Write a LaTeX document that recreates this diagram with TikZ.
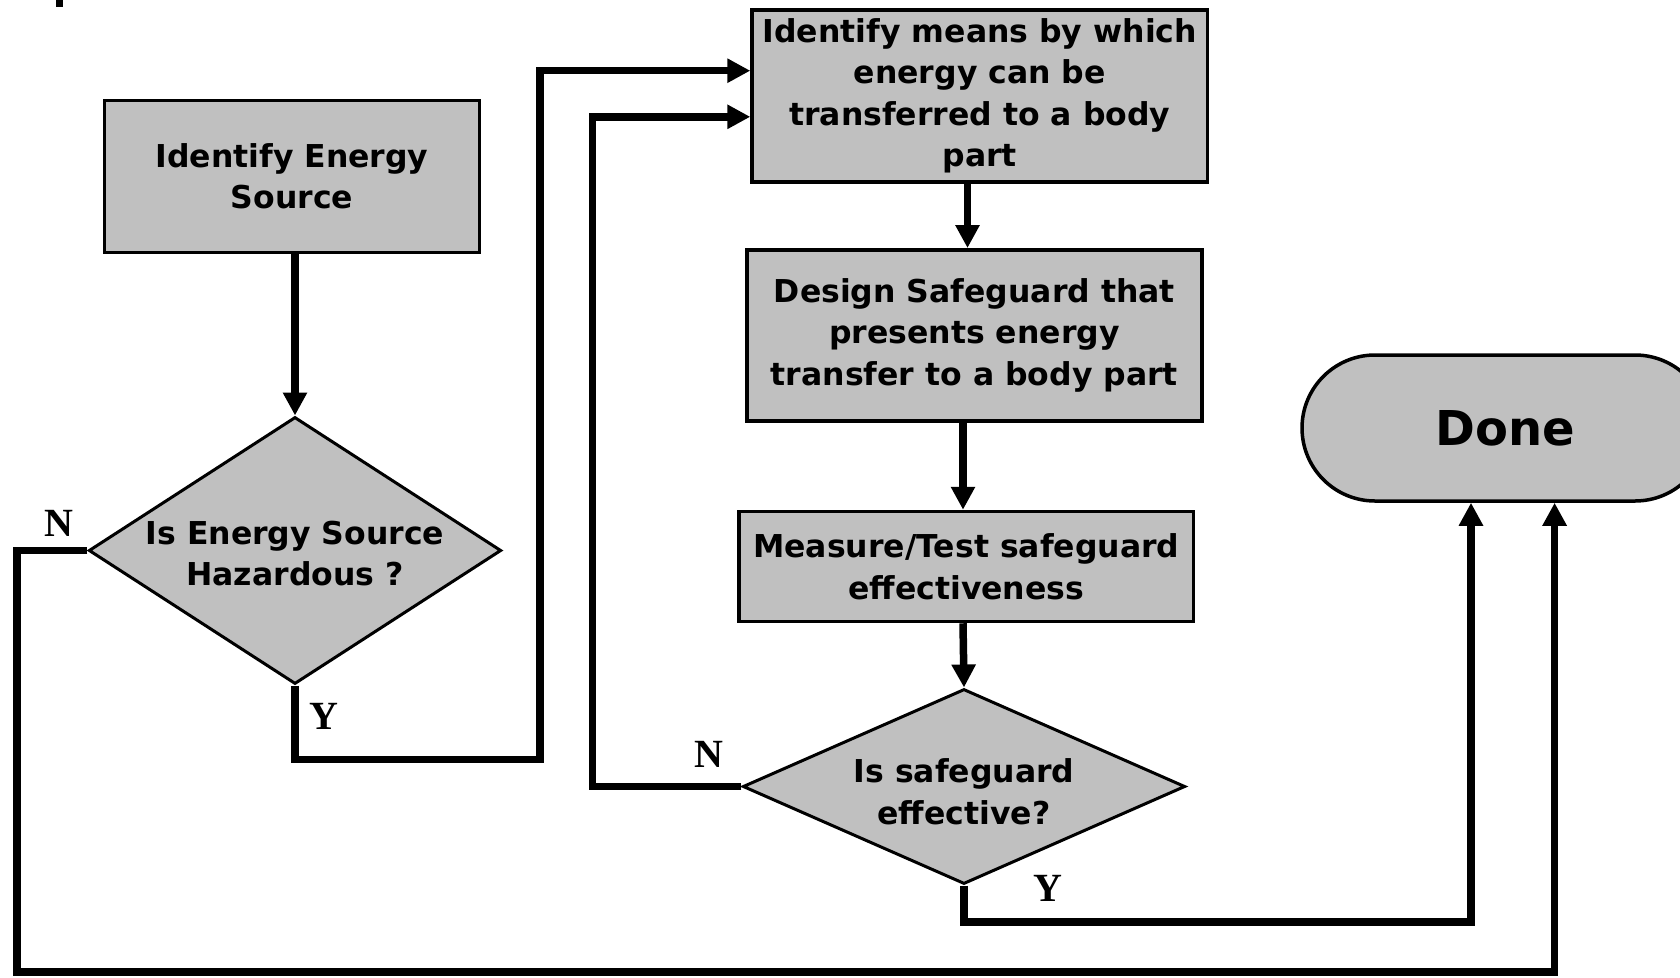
\documentclass[tikz,border=0pt]{standalone}
\usepackage{fontspec}
\setmainfont{DejaVu Sans}
\newfontfamily\ynfont{Liberation Serif}
\usepackage{tikz}
\usetikzlibrary{arrows.meta,positioning,shapes.geometric}
\definecolor{boxgray}{HTML}{C0C0C0}

\tikzset{
  procbox/.style={draw,line width=3.5pt,fill=boxgray,align=center,inner sep=0pt,
    font=\fontsize{31.5}{41.5}\selectfont\bfseries},
  decision/.style={diamond,draw,line width=3pt,fill=boxgray,inner sep=0pt},
  dectext/.style={align=center,font=\fontsize{31.5}{41.5}\selectfont\bfseries},
  terminal/.style={draw,line width=3.5pt,fill=boxgray,rounded corners=73pt,
    font=\fontsize{48}{56}\selectfont\bfseries},
  conn/.style={line width=7.5pt},
  yn/.style={font=\fontsize{40}{44}\selectfont\ynfont\bfseries}
}

\begin{document}
\begin{tikzpicture}[x=1pt,y=-1pt,>={Triangle[length=23pt,width=23pt]}]
  \clip (0,0) rectangle (1680,977);
  \fill (56,0) rectangle (63,7);
  % boxes
  \node[procbox,minimum width=375pt,minimum height=152pt] (src) at (292,176.5) {Identify Energy\\Source};
  \node[decision,minimum width=412.5pt,minimum height=267pt] (haz) at (295,550.5) {};
  \node[dectext] at ([yshift=-3pt]haz) {Is Energy Source\\Hazardous ?};
  \node[procbox,minimum width=455.5pt,minimum height=172pt] (means) at (979.8,95.8) {Identify means by which\\energy can be\\transferred to a body\\part};
  \node[procbox,minimum width=455pt,minimum height=171pt] (design) at (974.4,335.3) {Design Safeguard that\\presents energy\\transfer to a body part};
  \node[procbox,minimum width=454.6pt,minimum height=110pt] (measure) at (966.3,566.5) {Measure/Test safeguard\\effectiveness};
  \node[decision,minimum width=442.4pt,minimum height=195pt] (eff) at (964,786.5) {};
  \node[dectext] at ([yshift=-5pt]eff) {Is safeguard\\effective?};
  \node[terminal,minimum width=406pt,minimum height=146pt] (done) at (1505,428) {Done};
  % straight arrows
  \draw[conn,->] (src.south -| haz.north) -- (haz.north);
  \draw[conn,->] (967.5,0 |- means.south) -- (967.5,0 |- design.north);
  \draw[conn,->] (963,0 |- design.south) -- (963,0 |- measure.north);
  \draw[conn,->] (963,0 |- measure.south) -- (eff.north);
  % decision branches
  \draw[conn,->] (haz.south) -- (295,759.5) -- (540,759.5) -- (540,70.7) -- (means.west |- 0,70.7);
  \draw[conn,->] (haz.west) -- (17,550.5) -- (17,972) -- (1554.6,972) -- (1554.6,0 |- done.south);
  \draw[conn,->] (eff.west) -- (592.5,786.5) -- (592.5,116.8) -- (means.west |- 0,116.8);
  \draw[conn,->] (eff.south) -- (964,922) -- (1471,922) -- (1471,0 |- done.south);
  % labels
  \node[yn] (n1) at (59,523) {N};
  \node[yn] (y1) at (323.6,716) {Y};
  \node[yn] (n2) at (709,754) {N};
  \node[yn] (y2) at (1048,888) {Y};
\end{tikzpicture}
\end{document}
